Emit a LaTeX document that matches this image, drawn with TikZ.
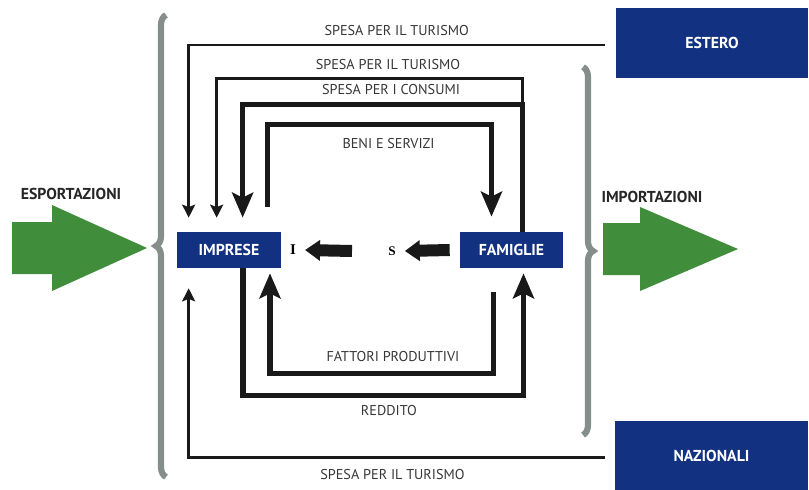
\documentclass[tikz,border=0pt]{standalone}
\usepackage{fontspec}
\setmainfont{PT Sans}
\newfontfamily\serifb{Liberation Serif}
\usetikzlibrary{arrows.meta,decorations.pathreplacing}
\definecolor{bluBox}{RGB}{18,49,128}
\definecolor{verde}{RGB}{64,141,60}
\definecolor{grigio}{RGB}{134,142,140}
\definecolor{testo}{RGB}{55,55,55}

\begin{document}
\begin{tikzpicture}[
  x=0.02cm, y=-0.02cm,
  box/.style={fill=bluBox, text=white, font=\fontsize{9}{10}\selectfont\bfseries, inner sep=0pt},
  lbl/.style={font=\fontsize{8.1}{9}\selectfont, text=testo, inner sep=1pt},
  titolo/.style={font=\fontsize{9}{10}\selectfont\bfseries, text=black!85},
  arr/.style={-{Stealth[length=0.26cm, width=0.26cm, inset=0.05cm]}, line width=1.7pt, black!90},
  arrb/.style={-{Stealth[length=0.5cm, width=0.42cm, inset=0.1cm]}, line width=3pt, black!90},
  arrs/.style={-{Triangle[length=0.3cm, width=0.4cm]}, line width=0.24cm, black!90},
  graffa/.style={decorate, decoration={brace, amplitude=0.2cm}, grigio, line width=3.5pt}
]
  \useasboundingbox (0,0) rectangle (809,490);

  %-- Settori
  \node[box, minimum width=2.08cm, minimum height=0.72cm] (imprese)   at (229,250)   {IMPRESE};
  \node[box, minimum width=2.06cm, minimum height=0.72cm] (famiglie)  at (511.5,250) {FAMIGLIE};
  \node[box, minimum width=3.84cm, minimum height=1.4cm]  (estero)    at (712,43)    {ESTERO};
  \node[box, minimum width=3.86cm, minimum height=1.38cm] (nazionali) at (711.5,455.5) {NAZIONALI};

  %-- Risparmio e investimenti
  \node[font=\serifb\fontsize{8.5}{9}\selectfont\bfseries, inner sep=5pt] (inv)  at (293,250) {I};
  \node[font=\serifb\fontsize{7.5}{8}\selectfont\bfseries, inner sep=5pt] (risp) at (392,251) {S};
  \draw[arrs] ([shift={(-10,0)}]famiglie.west) -- (risp.east);
  \draw[arrs] ([shift={(-40,0)}]risp.center) -- (inv.east);

  %-- Parentesi
  \draw[graffa] (166,477) -- (166,15);
  \draw[graffa] (583,67) -- (583,435);

  %-- Esportazioni / importazioni
  \fill[verde] (12,222) -- (52,222) -- (52,205) -- (147,248) -- (52,291) -- (52,274) -- (12,274) -- cycle;
  \fill[verde] (603,223) -- (640,223) -- (640,207) -- (738,249) -- (640,291) -- (640,275) -- (603,275) -- cycle;
  \node[titolo] (esp) at (71,194) {ESPORTAZIONI};
  \node[titolo] (imp) at (652,197) {IMPORTAZIONI};

  %-- Flussi
  \draw[arr] ([shift={(-11,2)}]estero.west) -| ([shift={(12,-14)}]imprese.north west)
    node[lbl, pos=.25, above=3.5pt] {SPESA PER IL TURISMO};
  \draw[arr] ([shift={(11,-127)}]famiglie.north) -- ++(0,-26) -| ([shift={(40,-14)}]imprese.north west)
    node[lbl, pos=.22, above=3pt] {SPESA PER IL TURISMO};
  \draw[arrb] ([shift={(11,0)}]famiglie.north) -- ++(0,-127) -| ([shift={(66,-14)}]imprese.north west)
    node[lbl, pos=.235, above=3pt] {SPESA PER I CONSUMI};
  \draw[arrb] ([shift={(91,-25)}]imprese.north west) -- ++(0,-82) -| ([shift={(-20,-15)}]famiglie.north)
    node[lbl, pos=.27, below=5.5pt] {BENI E SERVIZI};
  \draw[arrb] ([shift={(-18,24)}]famiglie.south) -- ++(0,81) -| ([shift={(41,5)}]imprese.south)
    node[lbl, pos=.225, above=4pt] {FATTORI PRODUTTIVI};
  \draw[arrb] ([shift={(14,0)}]imprese.south) -- ++(0,127) -| ([shift={(12,5)}]famiglie.south)
    node[lbl, pos=.26, below=3pt] {REDDITO};
  \draw[arr] ([shift={(-10,2)}]nazionali.west) -| ([shift={(12,20)}]imprese.south west)
    node[lbl, pos=.255, below=5pt] {SPESA PER IL TURISMO};
\end{tikzpicture}
\end{document}
